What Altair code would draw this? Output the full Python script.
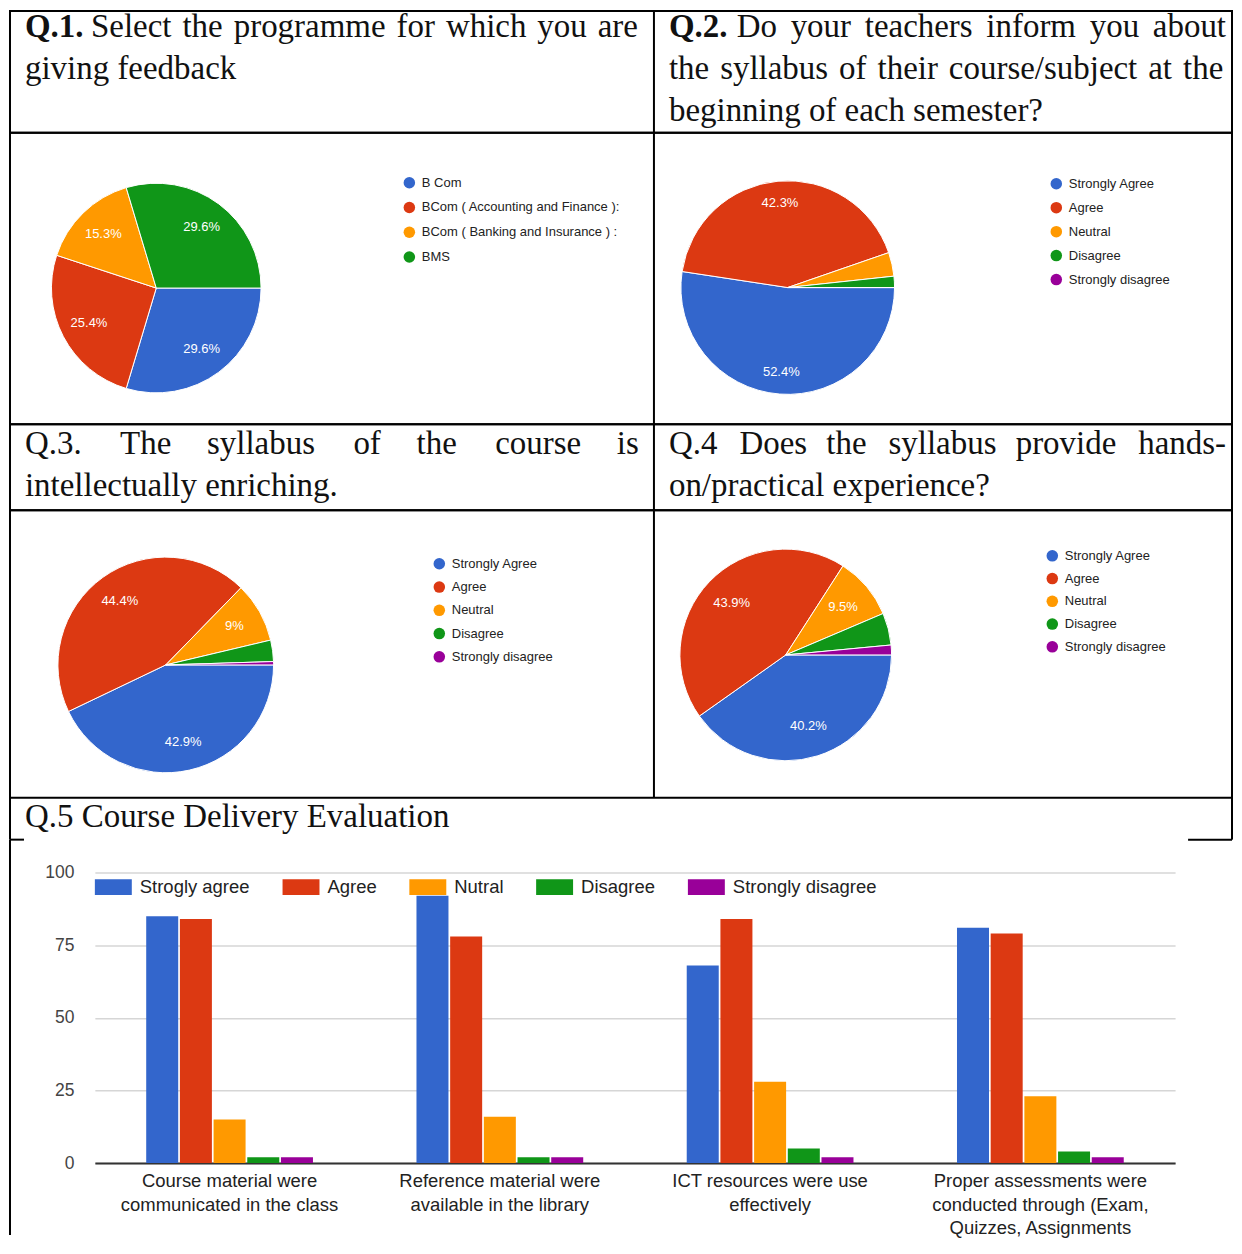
import math
import altair as alt
import pandas as pd

# ---------------- data ----------------
programme_names = ["B Com", "BCom ( Accounting and Finance ):",
                   "BCom ( Banking and Insurance ) :", "BMS"]
programme_share = [29.6, 25.4, 15.3, 29.6]

agreement_levels = ["Strongly Agree", "Agree", "Neutral", "Disagree", "Strongly disagree"]
q2_share = [52.4, 42.3, 3.6, 1.7, 0.0]
q3_share = [42.9, 44.4, 9.0, 3.2, 0.5]
q4_share = [40.2, 43.9, 9.5, 4.9, 1.5]

delivery_items = [
    "Course material were\ncommunicated in the class",
    "Reference material were\navailable in the library",
    "ICT resources were use\neffectively",
    "Proper assessments were\nconducted through (Exam,\nQuizzes, Assignments",
]
delivery_levels = ["Strogly agree", "Agree", "Nutral", "Disagree", "Strongly disagree"]
strongly_agree = [85, 92, 68, 81]
agree = [84, 78, 84, 79]
neutral = [15, 16, 28, 23]
disagree = [2, 2, 5, 4]
strongly_disagree = [2, 2, 2, 2]

google_colors = ["#3366cc", "#dc3912", "#ff9900", "#109618", "#990099"]

# ---------------- question texts ----------------
q1_head = "Q.1."
q1_words = ["Select", "the", "programme", "for", "which", "you", "are"]
q1_line2 = "giving feedback"
q2_head = "Q.2."
q2_words1 = ["Do", "your", "teachers", "inform", "you", "about"]
q2_words2 = ["the", "syllabus", "of", "their", "course/subject", "at", "the"]
q2_line3 = "beginning of each semester?"
q3_words1 = ["Q.3.", "The", "syllabus", "of", "the", "course", "is"]
q3_line2 = "intellectually enriching."
q4_words1 = ["Q.4", "Does", "the", "syllabus", "provide", "hands-"]
q4_line2 = "on/practical experience?"
q5_title = "Q.5 Course Delivery Evaluation"

SERIF = "Liberation Serif"
SANS = "Liberation Sans"
INK = "#111111"
FS = 33
ONE = pd.DataFrame({"k": [0]})
W1, W2 = 645, 579
W = W1 + W2
BORDER = alt.ViewBackground(stroke="black", strokeWidth=2)
NOBORDER = alt.ViewBackground(stroke="transparent")


def justify(words, gaps):
    out = words[0]
    for i, w in enumerate(words[1:]):
        out += gaps[i % len(gaps)] + w
    return out


def txt(s, x, baseline_y, bold=False, align="left", size=FS):
    # baseline "top": Vega places the alphabetic baseline 0.79*size below y
    return alt.Chart(ONE).mark_text(
        text=s, font=SERIF, fontSize=size, fontWeight="bold" if bold else "normal",
        align=align, baseline="top", color=INK,
    ).encode(x=alt.value(x), y=alt.value(baseline_y - round(0.79 * size)))


def rule(x1, y1, x2, y2):
    return alt.Chart(ONE).mark_rule(color="black", strokeWidth=2).encode(
        x=alt.value(x1), y=alt.value(y1), x2=alt.value(x2), y2=alt.value(y2))


def pie(cats, vals, cx, cy, r, lr, lx, ly, rp):
    df = pd.DataFrame({"answer": cats, "share": vals, "rank": list(range(len(cats)))})
    theta = alt.Theta("share:Q", stack=True,
                      scale=alt.Scale(range=[math.pi / 2, math.pi / 2 + 2 * math.pi]))
    base = alt.Chart(df)
    arcs = base.mark_arc(outerRadius=r, stroke="white", strokeWidth=1).encode(
        theta=theta,
        color=alt.Color("answer:N",
                        scale=alt.Scale(domain=cats, range=google_colors[:len(cats)]),
                        legend=alt.Legend(orient="none", legendX=lx, legendY=ly, title=None,
                                          symbolType="circle", symbolSize=133,
                                          symbolStrokeWidth=0, labelFont=SANS,
                                          labelFontSize=13, labelColor="#222222",
                                          labelOffset=6, rowPadding=rp, padding=0,
                                          labelLimit=400)),
        order=alt.Order("rank:Q"),
        x=alt.value(cx), y=alt.value(cy),
    )
    labels = base.transform_calculate(
        pct="datum.share >= 5 ? datum.share + '%' : ''"
    ).mark_text(radius=lr, font=SANS, fontSize=13, color="white").encode(
        theta=theta, detail="answer:N", order=alt.Order("rank:Q"), text="pct:N",
        x=alt.value(cx), y=alt.value(cy),
    )
    return alt.layer(arcs, labels)


def pie_row(left, right, h):
    return alt.layer(left, right, rule(W1, 0, W1, h)).resolve_scale(
        color="independent", theta="independent"
    ).resolve_legend(color="independent").properties(width=W, height=h, view=BORDER)


row1 = alt.layer(
    txt(q1_head, 15, 26, bold=True),
    txt(justify(q1_words, ["\u2004"]), 629, 26, align="right"),
    txt(q1_line2, 15, 68),
    txt(q2_head, W1 + 15, 26, bold=True),
    txt(justify(q2_words1, ["\u2005\u2006"]), W1 + 573, 26, align="right"),
    txt(justify(q2_words2, ["\u2004"]), W1 + 15, 68),
    txt(q2_line3, W1 + 15, 110),
    rule(W1, 0, W1, 122),
).properties(width=W, height=122, view=BORDER)

row2 = pie_row(
    pie(programme_names, programme_share, 146.5, 155.5, 105, 76, 393.5, 43.5, 10.8),
    pie(agreement_levels, q2_share, W1 + 134, 155, 107, 85, W1 + 396.5, 44.5, 10.0),
    292)

row3 = alt.layer(
    txt(justify(q3_words1, ["\u2002\u2002\u2006", "\u2002\u2004\u2005"]), 15, 30),
    txt(q3_line2, 15, 72),
    txt(justify(q4_words1, ["\u2004\u2004", "\u2005\u2004"]), W1 + 15, 30),
    txt(q4_line2, W1 + 15, 72),
    rule(W1, 0, W1, 86),
).properties(width=W, height=86, view=BORDER)

row4 = pie_row(
    pie(agreement_levels, q3_share, 156, 155, 108, 79, 423.5, 47.2, 9.3),
    pie(agreement_levels, q4_share, W1 + 132, 145, 106, 75, W1 + 392.5, 39.2, 8.8),
    288)

row5 = alt.layer(
    txt(q5_title, 15, 29),
    rule(0, 0, 0, 42),
    rule(W, 0, W, 42),
    rule(0, 42, 14, 42),
    rule(1180, 42, W, 42),
).properties(width=W, height=42, view=NOBORDER)

# ---------------- bar chart ----------------
rows = []
for i, item in enumerate(delivery_items):
    for lvl, vals in zip(delivery_levels,
                         [strongly_agree, agree, neutral, disagree, strongly_disagree]):
        rows.append({"item": item, "level": lvl, "count": vals[i]})
bar_df = pd.DataFrame(rows)

PX0, PX1, PY0, PY1 = 85, 1167, 33, 324

bars = alt.Chart(bar_df).mark_bar().encode(
    x=alt.X("item:N", sort=delivery_items,
            scale=alt.Scale(paddingInner=0.383, paddingOuter=0.19, range=[PX0, PX1]),
            axis=alt.Axis(title=None, labelAngle=0, labelExpr="split(datum.label, '\\n')",
                          labelFont=SANS, labelFontSize=18.5, labelColor="#222222",
                          labelLineHeight=24, ticks=False, domainColor="#333333",
                          domainWidth=2, labelPadding=8, labelLimit=500)),
    xOffset=alt.XOffset("level:N", sort=delivery_levels, scale=alt.Scale(paddingInner=0.05)),
    y=alt.Y("count:Q", scale=alt.Scale(domain=[0, 100], range=[PY1, PY0]),
            axis=alt.Axis(title=None, values=[0, 25, 50, 75, 100], grid=True,
                          gridColor="#d6d6d6", gridWidth=1.5, domain=False, ticks=False,
                          labelFont=SANS, labelFontSize=17.5, labelColor="#444444",
                          labelPadding=21, offset=-PX0)),
    color=alt.Color("level:N", sort=delivery_levels,
                    scale=alt.Scale(domain=delivery_levels, range=google_colors),
                    legend=alt.Legend(orient="none", legendX=PX0, legendY=PY0 - 4, title=None,
                                      direction="horizontal", columns=5,
                                      symbolType="M-1,-0.43L1,-0.43L1,0.43L-1,0.43Z",
                                      symbolSize=1369, symbolStrokeWidth=0,
                                      labelFont=SANS, labelFontSize=18.5,
                                      labelColor="#222222", labelOffset=8,
                                      columnPadding=32, padding=0, labelLimit=400)),
)

row6 = alt.layer(bars, rule(0, 0, 0, 396)).properties(width=W, height=PY1, view=NOBORDER)

chart = alt.concat(
    row1, row2, row3, row4, row5, row6,
    columns=1, spacing=0, bounds="flush", align="none",
).resolve_scale(
    color="independent", theta="independent"
).resolve_legend(
    color="independent"
).properties(
    padding={"left": 0, "top": 0, "right": 0, "bottom": 0},
    background="white",
).configure_view(stroke="transparent").configure(font=SANS)

chart.save("out.html", embed_options={"renderer": "svg", "actions": False})
